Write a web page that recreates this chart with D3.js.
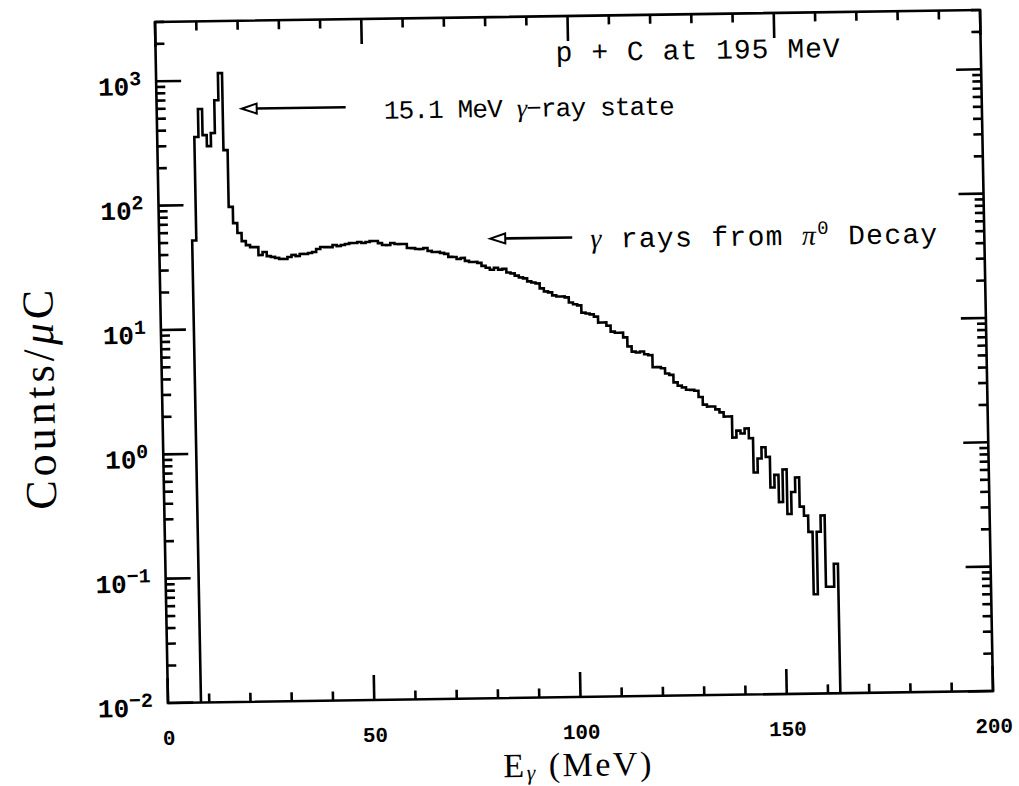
<!DOCTYPE html>
<html>
<head>
<meta charset="utf-8">
<script src="https://cdn.jsdelivr.net/npm/d3@7"></script>
<style>
  body { margin: 0; background: #ffffff; }
  svg { display: block; }
</style>
</head>
<body>
<svg id="chart" width="1019" height="786"></svg>
<script>
// ---------------- data ----------------
// histogram: 1 MeV bins, first bin starts at 8 MeV
const binStartMeV = 8;
const binWidthMeV = 1;
const countsPerMicroC = [
  52, 353, 592, 365, 297, 378, 693, 1145, 275, 96, 71, 59,            // 8-19
  50.7, 47.0, 45.3, 45.2, 39.0, 41.2, 38.2, 37.5, 36.8, 36.1,         // 20-29
  36.0, 37.3, 38.7, 37.9, 39.4, 39.3, 40.0, 40.7, 42.9, 44.5,         // 30-39
  44.4, 44.3, 46.0, 45.1, 45.9, 46.7, 47.5, 47.5, 48.3, 47.4,         // 40-49
  48.2, 49.0, 49.0, 47.1, 45.4, 45.3, 47.0, 46.1, 46.0, 46.0,         // 50-59
  42.7, 42.6, 41.8, 41.7, 42.5, 40.2, 39.4, 39.4, 38.6, 37.9,         // 60-69
  35.8, 35.7, 34.4, 35.0, 33.1, 32.4, 32.4, 31.8, 30.1, 29.0,         // 70-79
  27.9, 28.9, 27.9, 28.3, 26.4, 25.9, 24.9, 24.0, 23.6, 22.3,         // 80-89
  21.8, 21.4, 19.5, 18.4, 18.1, 17.1, 16.7, 16.7, 16.4, 14.9,         // 90-99
  14.4, 14.1, 12.3, 12.1, 11.9, 11.4, 10.2, 10.2, 9.6, 8.6,           // 100-109
  8.4, 8.4, 7.7, 6.5, 5.9, 5.8, 5.9, 5.6, 5.5, 4.4,                   // 110-119
  4.4, 4.3, 3.9, 3.8, 3.3, 3.1, 3.0, 2.87, 2.86, 2.81,                // 120-129
  2.5, 2.17, 2.09, 2.09, 1.98, 1.87, 1.73, 1.73, 1.17, 1.33,          // 130-139
  1.26, 1.38, 1.15, 0.61, 0.79, 0.97, 0.81, 0.46, 0.58, 0.35,         // 140-149
  0.64, 0.28, 0.42, 0.55, 0.32, 0.27, 0.20, 0.063, 0.20, 0.27,        // 150-159
  0.072, 0.072, 0.11                                                  // 160-162
];
const xDomain = [0, 200];
const yDomain = [0.01, 3000];
const xMajorTicks = [0, 50, 100, 150, 200];
const yMajorExponents = [-2, -1, 0, 1, 2, 3];
const titleText = "p + C at 195 MeV";
const xTitle = ["E", "γ", " (MeV)"];
const yTitle = ["Counts/", "μ", "C"];

// ---------------- layout ----------------
const W = 825, H = 681;
const ink = "#000";
const svg = d3.select("#chart");
// the scanned figure is slightly skewed; reproduce it with an affine transform
const g = svg.append("g").attr("transform", "matrix(1,-0.01456,0.0191,1,155,22)");

const x = d3.scaleLinear().domain(xDomain).range([0, W]);
const y = d3.scaleLog().domain(yDomain).range([H, 0]);

// ---------------- ticks (from the scales) ----------------
const xAll = x.ticks(20);
const isDecade = v => Math.abs(Math.log10(v) - Math.round(Math.log10(v))) < 1e-9;
const yAll = y.ticks();
const majLen = 25, minLen = 9;
const tickG = g.append("g").attr("class", "ticks");
function tick(x1, y1, x2, y2) {
  tickG.append("line")
    .attr("x1", x1).attr("y1", y1).attr("x2", x2).attr("y2", y2)
    .attr("stroke", ink).attr("stroke-width", 2.6).attr("stroke-linecap", "butt");
}
xAll.forEach(v => {
  const L = xMajorTicks.includes(v) ? majLen : minLen;
  tick(x(v), H, x(v), H - L);
  tick(x(v), 0, x(v), L);
});
yAll.forEach(v => {
  const L = isDecade(v) ? majLen : minLen;
  tick(0, y(v), L, y(v));
  tick(W, y(v), W - L, y(v));
});

// tick labels through d3 axes (tick lines drawn above)
const xb = g.append("g").attr("transform", `translate(0,${H})`)
  .call(d3.axisBottom(x).tickValues(xMajorTicks).tickSize(0).tickPadding(27).tickFormat(d3.format("d")));
xb.select(".domain").remove();
xb.selectAll("text").attr("fill", ink)
  .style("font-family", "'Liberation Mono', monospace").style("font-weight", "bold").style("font-size", "21px");

const yMajor = yAll.filter(v => isDecade(v) && yMajorExponents.includes(Math.round(Math.log10(v))));
const yl = g.append("g")
  .call(d3.axisLeft(y).tickValues(yMajor).tickSize(0).tickPadding(15).tickFormat(d => Math.round(Math.log10(d))));
yl.select(".domain").remove();
yl.selectAll("text").each(function(d) {
  const t = d3.select(this);
  const e = Math.round(Math.log10(d));
  t.text("").attr("fill", ink).attr("dy", "0.5em")
    .style("font-family", "'Liberation Mono', monospace").style("font-weight", "bold").style("font-size", "26px");
  t.append("tspan").text("10");
  t.append("tspan").attr("dy", "-0.5em").style("font-size", "20px").text(e < 0 ? "−" + (-e) : String(e));
});

// ---------------- histogram ----------------
const pts = [[binStartMeV, yDomain[0]]];
countsPerMicroC.forEach((c, i) => {
  const e0 = binStartMeV + i * binWidthMeV;
  pts.push([e0, c], [e0 + binWidthMeV, c]);
});
pts.push([binStartMeV + countsPerMicroC.length * binWidthMeV, yDomain[0]]);
g.append("path")
  .attr("d", d3.line().x(d => x(d[0])).y(d => y(d[1]))(pts))
  .attr("fill", "none").attr("stroke", ink).attr("stroke-width", 2.6)
  .attr("stroke-linejoin", "miter");

// frame
g.append("rect").attr("x", 0).attr("y", 0).attr("width", W).attr("height", H)
  .attr("fill", "none").attr("stroke", ink).attr("stroke-width", 2.6);

// ---------------- texts ----------------
const mono = "'Liberation Mono', 'Courier New', monospace";
const serif = "'Liberation Serif', 'DejaVu Serif', serif";

g.append("text").attr("x", 400).attr("y", 45)
  .attr("textLength", 284).attr("lengthAdjust", "spacing")
  .attr("fill", ink).style("font-family", mono).style("font-size", "28px")
  .text(titleText);

// annotation 1
const a1 = g.append("text").attr("x", 227).attr("y", 100)
  .attr("textLength", 291).attr("lengthAdjust", "spacing")
  .attr("fill", ink).style("font-family", mono).style("font-size", "26px");
a1.append("tspan").text("15.1 MeV ");
a1.append("tspan").style("font-family", serif).style("font-style", "italic").text("γ");
a1.append("tspan").text("−ray state");

// annotation 2
const a2 = g.append("text").attr("x", 431).attr("y", 232)
  .attr("textLength", 347).attr("lengthAdjust", "spacing")
  .attr("fill", ink).style("font-family", mono).style("font-size", "28px");
a2.append("tspan").style("font-family", serif).style("font-style", "italic").text("γ");
a2.append("tspan").text(" rays from ");
a2.append("tspan").style("font-family", serif).style("font-style", "italic").text("π");
a2.append("tspan").attr("dy", "-0.55em").style("font-size", "19px").text("0");
a2.append("tspan").attr("dy", "0.38em").text(" Decay");

// arrows (open triangular heads)
function arrow(u0, u1, v) {
  g.append("line").attr("x1", u0 + 14).attr("x2", u1).attr("y1", v).attr("y2", v)
    .attr("stroke", ink).attr("stroke-width", 2.6);
  g.append("path").attr("d", `M${u0},${v} L${u0 + 15},${v - 5} L${u0 + 15},${v + 5} Z`)
    .attr("fill", "#fff").attr("stroke", ink).attr("stroke-width", 2);
}
arrow(85, 189, 88);
arrow(331, 413, 221.5);

// axis titles
const xt = g.append("text").attr("x", 408).attr("y", 760).attr("text-anchor", "middle")
  .attr("textLength", 148).attr("lengthAdjust", "spacing")
  .attr("fill", ink).style("font-family", serif).style("font-size", "34px");
xt.append("tspan").text(xTitle[0]);
xt.append("tspan").attr("dy", "0.15em").style("font-size", "22px").style("font-style", "italic").text(xTitle[1]);
xt.append("tspan").attr("dy", "-0.1em").text(xTitle[2]);

const yt = g.append("text").attr("transform", "translate(-108,376) rotate(-90)")
  .attr("text-anchor", "middle")
  .attr("textLength", 220).attr("lengthAdjust", "spacing")
  .attr("fill", ink).style("font-family", serif).style("font-size", "44px");
yt.append("tspan").text(yTitle[0]);
yt.append("tspan").style("font-style", "italic").text(yTitle[1]);
yt.append("tspan").text(yTitle[2]);
</script>
</body>
</html>
